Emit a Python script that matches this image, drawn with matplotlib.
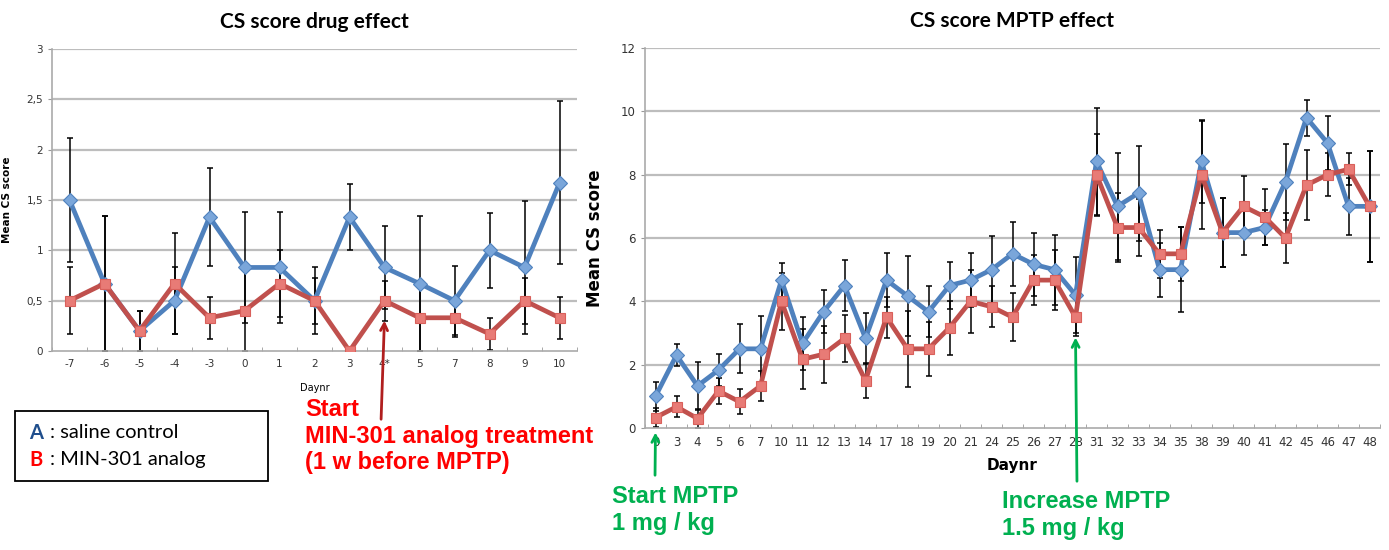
import matplotlib
matplotlib.use('Agg')
import matplotlib.pyplot as plt
from matplotlib.patches import Rectangle
from matplotlib.ticker import FuncFormatter
import numpy as np

W, H = 1389, 550

# left panel: drug effect
days_l = ['-7', '-6', '-5', '-4', '-3', '0', '1', '2', '3', '4*', '5', '7', '8', '9', '10']
a_l = [1.5, 0.67, 0.2, 0.5, 1.33, 0.83, 0.83, 0.5, 1.33, 0.83, 0.67, 0.5, 1.0, 0.83, 1.67]
a_l_err = [0.62, 0.67, 0.2, 0.33, 0.49, 0.55, 0.55, 0.33, 0.33, 0.41, 0.67, 0.34, 0.37, 0.66, 0.81]
b_l = [0.5, 0.67, 0.2, 0.67, 0.33, 0.4, 0.67, 0.5, 0.0, 0.5, 0.33, 0.33, 0.17, 0.5, 0.33]
b_l_err = [0.33, 0.67, 0.2, 0.5, 0.21, 0.4, 0.33, 0.23, 0.0, 0.2, 0.33, 0.19, 0.16, 0.23, 0.21]

# right panel: MPTP effect
days_r = ['0', '3', '4', '5', '6', '7', '10', '11', '12', '13', '14', '17', '18', '19', '20',
          '21', '24', '25', '26', '27', '28', '31', '32', '33', '34', '35', '38', '39', '40',
          '41', '42', '45', '46', '47', '48']
a_r = [1.0, 2.3, 1.33, 1.83, 2.5, 2.5, 4.67, 2.67, 3.67, 4.5, 2.83, 4.67, 4.17, 3.67, 4.5,
       4.67, 5.0, 5.5, 5.17, 5.0, 4.2, 8.42, 7.0, 7.42, 5.0, 5.0, 8.42, 6.17, 6.17,
       6.33, 7.78, 9.8, 9.0, 7.0, 7.0]
a_r_err = [0.45, 0.35, 0.75, 0.5, 0.77, 1.05, 0.55, 0.83, 0.68, 0.8, 0.8, 0.85, 1.25, 0.8, 0.75,
           0.85, 1.05, 1.0, 1.0, 1.1, 1.2, 1.7, 1.7, 1.5, 0.85, 1.35, 1.3, 1.1, 0.7,
           0.55, 1.2, 0.57, 0.85, 0.9, 1.75]
b_r = [0.33, 0.67, 0.3, 1.17, 0.83, 1.33, 4.0, 2.17, 2.33, 2.83, 1.5, 3.5, 2.5, 2.5, 3.17,
       4.0, 3.83, 3.5, 4.67, 4.67, 3.5, 8.0, 6.33, 6.33, 5.5, 5.5, 8.0, 6.17, 7.0,
       6.67, 6.0, 7.67, 8.0, 8.17, 7.0]
b_r_err = [0.3, 0.33, 0.3, 0.4, 0.4, 0.47, 0.9, 0.95, 0.9, 0.75, 0.55, 0.65, 1.2, 0.85, 0.85,
           1.0, 0.65, 0.75, 0.8, 0.95, 0.6, 1.3, 1.1, 0.9, 0.75, 0.85, 1.7, 1.1, 0.95,
           0.88, 0.8, 1.1, 0.67, 0.5, 1.75]

BLUE_LINE, BLUE_MK = '#4F81BD', '#7AA6DA'
RED_LINE, RED_MK = '#C0504D', '#E87B76'
GREEN = '#00B050'
GRID = '#BDBDBD'

fig = plt.figure(figsize=(W / 100, H / 100), dpi=100)


def px(x, y):
    # image pixel (top-left origin) -> figure fraction
    return x / W, 1 - y / H


def panel(rect, days, a, a_err, b, b_err, ymax, ystep, tick_fs, lw, ms, comma):
    ax = fig.add_axes(rect)
    x = np.arange(len(days))
    for val in np.arange(ystep, ymax + ystep / 2, ystep):
        ax.axhline(val, color=GRID, lw=1.6, zorder=0)
    ax.errorbar(x, a, yerr=a_err, fmt='none', ecolor='black', elinewidth=1.1,
                capsize=2.5, capthick=1.1, zorder=2)
    ax.errorbar(x, b, yerr=b_err, fmt='none', ecolor='black', elinewidth=1.1,
                capsize=2.5, capthick=1.1, zorder=2)
    ax.plot(x, a, color=BLUE_LINE, lw=lw, marker='D', ms=ms, mfc=BLUE_MK,
            mec=BLUE_LINE, mew=0.8, zorder=3)
    ax.plot(x, b, color=RED_LINE, lw=lw, marker='s', ms=ms, mfc=RED_MK,
            mec='#D9605B', mew=0.8, zorder=4)
    ax.set_xlim(-0.5, len(days) - 0.5)
    ax.set_ylim(0, ymax)
    ax.set_xticks(x)
    ax.set_xticklabels(days, fontsize=tick_fs, color='#333333')
    ax.set_xticks(np.arange(-0.5, len(days)), minor=True)
    ax.tick_params(axis='x', which='major', length=0, pad=6)
    ax.tick_params(axis='x', which='minor', length=3, color='#999999', direction='in')
    ax.set_yticks(np.arange(0, ymax + ystep / 2, ystep))
    if comma:
        ax.yaxis.set_major_formatter(FuncFormatter(
            lambda v, p: ('%g' % v).replace('.', ',')))
    ax.tick_params(axis='y', labelsize=tick_fs, length=3, color='#999999',
                   labelcolor='#333333')
    for s in ['top', 'right']:
        ax.spines[s].set_visible(False)
    for s in ['left', 'bottom']:
        ax.spines[s].set_color('#AAAAAA')
        ax.spines[s].set_linewidth(1.2)
    return ax


ax1 = panel([52 / W, 1 - 351 / H, 525 / W, 302 / H], days_l, a_l, a_l_err, b_l, b_l_err,
            3, 0.5, 7.5, 3.4, 7.5, True)
ax1.set_title('CS score drug effect', fontsize=15, fontweight='bold', family='Lato', pad=15)
ax1.set_ylabel('Mean CS score', fontsize=7.5, fontweight='bold', labelpad=10)
ax1.set_xlabel('Daynr', fontsize=7, labelpad=10)

ax2 = panel([645 / W, 1 - 428 / H, 735 / W, 380 / H], days_r, a_r, a_r_err, b_r, b_r_err,
            12, 2, 8.5, 3.4, 7, False)
ax2.set_title('CS score MPTP effect', fontsize=15, fontweight='bold', family='Lato', pad=15)
ax2.set_ylabel('Mean CS score', fontsize=12, fontweight='bold', labelpad=12)
ax2.set_xlabel('Daynr', fontsize=11, fontweight='bold', labelpad=6)

# annotation arrows
ax1.annotate('', xy=(9, 0.33), xytext=(381, H - 422), textcoords='figure pixels',
             arrowprops=dict(arrowstyle='->,head_length=0.5,head_width=0.25',
                             color='#B01E1E', lw=2), annotation_clip=False, zorder=6)
ax2.annotate('', xy=(0, -0.05), xytext=(655, H - 478), textcoords='figure pixels',
             arrowprops=dict(arrowstyle='->,head_length=0.5,head_width=0.25',
                             color=GREEN, lw=2), annotation_clip=False, zorder=6)
ax2.annotate('', xy=(20, 2.95), xytext=(1077, H - 484), textcoords='figure pixels',
             arrowprops=dict(arrowstyle='->,head_length=0.5,head_width=0.25',
                             color=GREEN, lw=2), annotation_clip=False, zorder=6)

# annotation texts
fnt = dict(family='Liberation Sans', fontweight='bold', fontsize=17, va='top', ha='left',
           linespacing=1.2)
fig.text(*px(305, 398), 'Start\nMIN-301 analog treatment\n(1 w before MPTP)',
         color='#FF0000', **fnt)
fig.text(*px(612, 485), 'Start MPTP\n1 mg / kg', color=GREEN, **fnt)
fig.text(*px(1002, 490), 'Increase MPTP\n1.5 mg / kg', color=GREEN, **fnt)

# legend box
fig.patches.append(Rectangle(px(15, 481), 253 / W, 70 / H, transform=fig.transFigure,
                             fill=False, edgecolor='black', lw=1.3))
lg = dict(family='Lato', fontsize=14.5, va='center', ha='left')
fig.text(*px(29, 433), 'A', color='#1F4E8C', fontweight='bold', **lg)
fig.text(*px(50, 433), ': saline control', color='black', **lg)
fig.text(*px(29, 460), 'B', color='#FF0000', fontweight='bold', **lg)
fig.text(*px(50, 460), ': MIN-301 analog', color='black', **lg)

fig.savefig('out.png', dpi=100)
